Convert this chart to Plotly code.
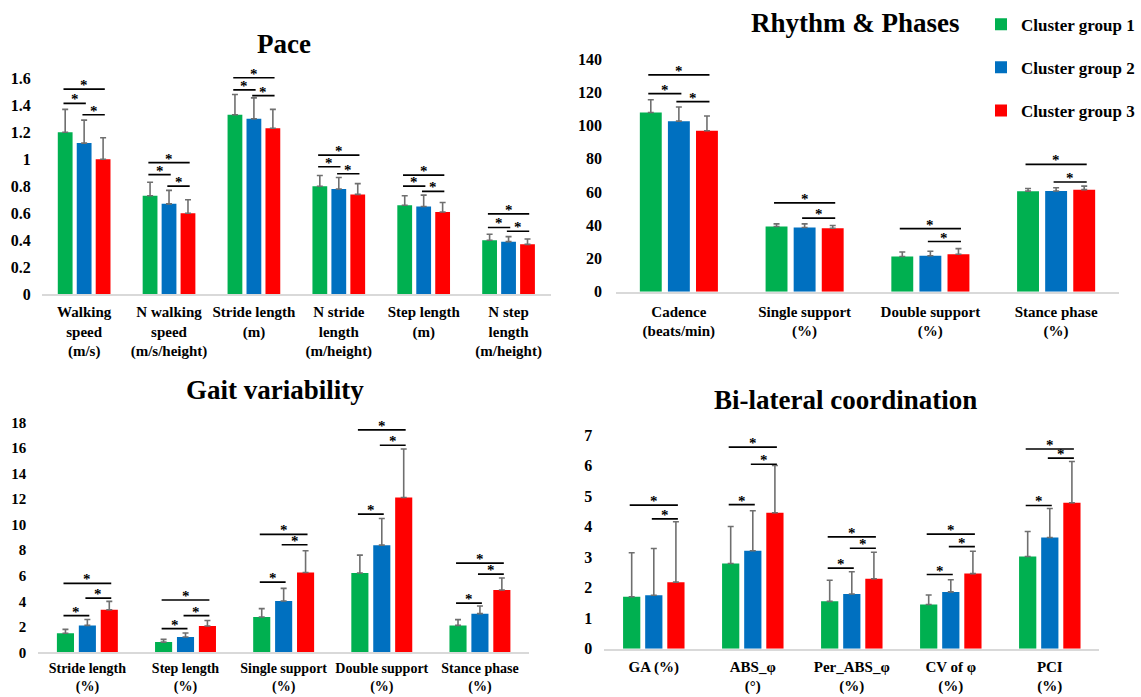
import plotly.graph_objects as go

# ---------------- data ----------------
GROUPS = ["Cluster group 1", "Cluster group 2", "Cluster group 3"]
COLORS = ["#00B050", "#0070C0", "#FF0000"]

# Pace
pace_cats = ["Walking<br>speed<br>(m/s)", "N walking<br>speed<br>(m/s/height)", "Stride length<br>(m)",
             "N stride<br>length<br>(m/height)", "Step length<br>(m)", "N step<br>length<br>(m/height)"]
pace_g1 = [1.20, 0.73, 1.33, 0.80, 0.66, 0.40]
pace_g2 = [1.12, 0.67, 1.30, 0.78, 0.65, 0.39]
pace_g3 = [1.00, 0.60, 1.23, 0.74, 0.61, 0.37]
pace_e1 = [0.17, 0.10, 0.15, 0.08, 0.07, 0.045]
pace_e2 = [0.17, 0.10, 0.155, 0.085, 0.085, 0.037]
pace_e3 = [0.16, 0.10, 0.14, 0.08, 0.07, 0.04]
# significance brackets: (category index, group i, group j, height)
pace_sig = [(0, 0, 1, 1.414), (0, 1, 2, 1.330), (0, 0, 2, 1.520),
            (1, 0, 1, 0.886), (1, 1, 2, 0.801), (1, 0, 2, 0.975),
            (2, 0, 1, 1.515), (2, 1, 2, 1.472), (2, 0, 2, 1.604),
            (3, 0, 1, 0.945), (3, 1, 2, 0.893), (3, 0, 2, 1.031),
            (4, 0, 1, 0.801), (4, 1, 2, 0.762), (4, 0, 2, 0.883),
            (5, 0, 1, 0.495), (5, 1, 2, 0.467), (5, 0, 2, 0.596)]
pace_ticks = [0, 0.2, 0.4, 0.6, 0.8, 1, 1.2, 1.4, 1.6]

# Rhythm & Phases
rhy_cats = ["Cadence<br>(beats/min)", "Single support<br>(%)", "Double support<br>(%)", "Stance phase<br>(%)"]
rhy_g1 = [107.8, 39.2, 21.2, 60.5]
rhy_g2 = [102.6, 38.6, 21.6, 60.6]
rhy_g3 = [96.8, 38.2, 22.5, 61.4]
rhy_e1 = [7.7, 1.6, 2.7, 1.6]
rhy_e2 = [8.5, 2.2, 2.7, 1.9]
rhy_e3 = [8.9, 1.6, 3.4, 2.1]
rhy_sig = [(0, 0, 1, 119.2), (0, 1, 2, 114.4), (0, 0, 2, 130.4),
           (1, 1, 2, 44.3), (1, 0, 2, 53.4),
           (2, 1, 2, 30.2), (2, 0, 2, 38.0),
           (3, 1, 2, 66.0), (3, 0, 2, 76.6)]
rhy_ticks = [0, 20, 40, 60, 80, 100, 120, 140]

# Gait variability
gv_cats = ["Stride length<br>(%)", "Step length<br>(%)", "Single support<br>(%)",
           "Double support<br>(%)", "Stance phase<br>(%)"]
gv_g1 = [1.49, 0.80, 2.77, 6.21, 2.11]
gv_g2 = [2.11, 1.20, 4.02, 8.40, 3.03]
gv_g3 = [3.34, 2.06, 6.26, 12.13, 4.88]
gv_e1 = [0.31, 0.21, 0.65, 1.41, 0.45]
gv_e2 = [0.46, 0.31, 0.99, 2.09, 0.60]
gv_e3 = [0.65, 0.43, 1.70, 3.81, 0.94]
gv_sig = [(0, 0, 1, 2.87), (0, 1, 2, 4.25), (0, 0, 2, 5.40),
          (1, 0, 1, 1.85), (1, 1, 2, 2.87), (1, 0, 2, 4.10),
          (2, 0, 1, 5.50), (2, 1, 2, 8.43), (2, 0, 2, 9.24),
          (3, 0, 1, 10.83), (3, 1, 2, 16.23), (3, 0, 2, 17.43),
          (4, 0, 1, 3.86), (4, 1, 2, 6.13), (4, 0, 2, 6.99)]
gv_ticks = [0, 2, 4, 6, 8, 10, 12, 14, 16, 18]

# Bi-lateral coordination
bl_cats = ["GA (%)", "ABS_φ<br>(°)", "Per_ABS_φ<br>(%)", "CV of φ<br>(%)", "PCI<br>(%)"]
bl_g1 = [1.70, 2.79, 1.55, 1.45, 3.02]
bl_g2 = [1.75, 3.21, 1.79, 1.86, 3.64]
bl_g3 = [2.18, 4.45, 2.29, 2.46, 4.78]
bl_e1 = [1.44, 1.21, 0.69, 0.31, 0.82]
bl_e2 = [1.53, 1.31, 0.73, 0.40, 0.95]
bl_e3 = [1.98, 1.55, 0.87, 0.73, 1.35]
bl_sig = [(0, 1, 2, 4.25), (0, 0, 2, 4.70),
          (1, 0, 1, 4.72), (1, 1, 2, 6.04), (1, 0, 2, 6.60),
          (2, 0, 1, 2.64), (2, 1, 2, 3.29), (2, 0, 2, 3.66),
          (3, 0, 1, 2.43), (3, 1, 2, 3.34), (3, 0, 2, 3.75),
          (4, 0, 1, 4.69), (4, 1, 2, 6.24), (4, 0, 2, 6.54)]
bl_ticks = [0, 1, 2, 3, 4, 5, 6, 7]

# ---------------- layout / style ----------------
FONT = "Liberation Serif"
BARGAP = 0.33
BARGROUPGAP = 0.22
W, H = 1141, 697


def fx(px):  # pixel x -> paper fraction
    return px / W


def fy(py):  # pixel y (from top) -> paper fraction
    return 1 - py / H


panels = [
    dict(title="Pace", cats=pace_cats, vals=[pace_g1, pace_g2, pace_g3], errs=[pace_e1, pace_e2, pace_e3],
         sig=pace_sig, ticks=pace_ticks, rng=[0, 1.7], ax="", xd=[41.7, 551], yd=[294.3, 64.8],
         tpos=(284, 44), xfs=15, yfs=16, sto=3, ysto=10),
    dict(title="Rhythm & Phases", cats=rhy_cats, vals=[rhy_g1, rhy_g2, rhy_g3], errs=[rhy_e1, rhy_e2, rhy_e3],
         sig=rhy_sig, ticks=rhy_ticks, rng=[0, 145], ax="2", xd=[616, 1119], yd=[291.7, 50.7],
         tpos=(855, 23), xfs=15, yfs=16, sto=5, ysto=13),
    dict(title="Gait variability", cats=gv_cats, vals=[gv_g1, gv_g2, gv_g3], errs=[gv_e1, gv_e2, gv_e3],
         sig=gv_sig, ticks=gv_ticks, rng=[0, 18.6], ax="3", xd=[38.3, 529], yd=[652.3, 415.0],
         tpos=(275, 390), xfs=14, yfs=15, sto=2, ysto=11),
    dict(title="Bi-lateral coordination", cats=bl_cats, vals=[bl_g1, bl_g2, bl_g3], errs=[bl_e1, bl_e2, bl_e3],
         sig=bl_sig, ticks=bl_ticks, rng=[0, 7.3], ax="4", xd=[604.3, 1099.3], yd=[648.7, 425.8],
         tpos=(845, 400), xfs=15, yfs=16, sto=3, ysto=11),
]

fig = go.Figure()
shapes = []
annotations = []
slot = (1 - BARGAP) / 3.0

for p_i, p in enumerate(panels):
    xa = "x" + p["ax"]
    ya = "y" + p["ax"]
    for g in range(3):
        fig.add_trace(go.Bar(
            x=p["cats"], y=p["vals"][g], name=GROUPS[g],
            marker=dict(color=COLORS[g], line=dict(width=0)),
            error_y=dict(type="data", symmetric=False, array=p["errs"][g],
                         arrayminus=[0] * len(p["errs"][g]),
                         color="#6F6F6F", thickness=1.6, width=3),
            xaxis=xa, yaxis=ya, showlegend=(p_i == 0), legendgroup="g%d" % g,
        ))
    for (c, i, j, h) in p["sig"]:
        x0 = c + (i - 1) * slot - 0.02
        x1 = c + (j - 1) * slot + 0.02
        shapes.append(dict(type="line", xref=xa, yref=ya, x0=x0, x1=x1, y0=h, y1=h,
                           line=dict(color="black", width=1.7)))
        annotations.append(dict(xref=xa, yref=ya, x=(x0 + x1) / 2, y=h, text="*",
                                showarrow=False, yanchor="bottom", yshift=-6,
                                font=dict(family=FONT, size=15, color="black", weight="bold")))
    annotations.append(dict(xref="paper", yref="paper", x=fx(p["tpos"][0]), y=fy(p["tpos"][1]),
                            text=p["title"], showarrow=False, xanchor="center", yanchor="middle",
                            font=dict(family=FONT, size=27, color="black", weight="bold")))
    key = p["ax"] if p["ax"] else ""
    fig.update_layout(**{
        "xaxis" + key: dict(domain=[fx(p["xd"][0]), fx(p["xd"][1])], anchor="y" + key,
                            showline=True, linecolor="#D9D9D9", linewidth=1.6,
                            showgrid=False, zeroline=False, ticks="", tickangle=0,
                            tickfont=dict(family=FONT, size=p["xfs"], color="black", weight="bold"),
                            ticklabelstandoff=p["sto"], fixedrange=True),
        "yaxis" + key: dict(domain=[fy(p["yd"][0]), fy(p["yd"][1])], anchor="x" + key,
                            range=p["rng"], tickvals=p["ticks"], showline=False, showgrid=False,
                            zeroline=False, ticks="",
                            tickfont=dict(family=FONT, size=p["yfs"], color="black", weight="bold"),
                            ticklabelstandoff=p["ysto"], fixedrange=True),
    })

fig.update_layout(
    width=W, height=H,
    margin=dict(l=0, r=0, t=0, b=0, autoexpand=False),
    paper_bgcolor="white", plot_bgcolor="white",
    barmode="group", bargap=BARGAP, bargroupgap=BARGROUPGAP,
    shapes=shapes, annotations=annotations,
    font=dict(family=FONT, color="black"),
    legend=dict(x=fx(981), y=fy(6.7), xanchor="left", yanchor="top",
                font=dict(family=FONT, size=17, color="black", weight="bold"),
                bgcolor="rgba(0,0,0,0)", tracegroupgap=18, traceorder="grouped"),
)

fig.write_html("out.html", config={"displayModeBar": False},
               post_script="document.body.style.margin='0px';document.body.style.overflow='hidden';")
